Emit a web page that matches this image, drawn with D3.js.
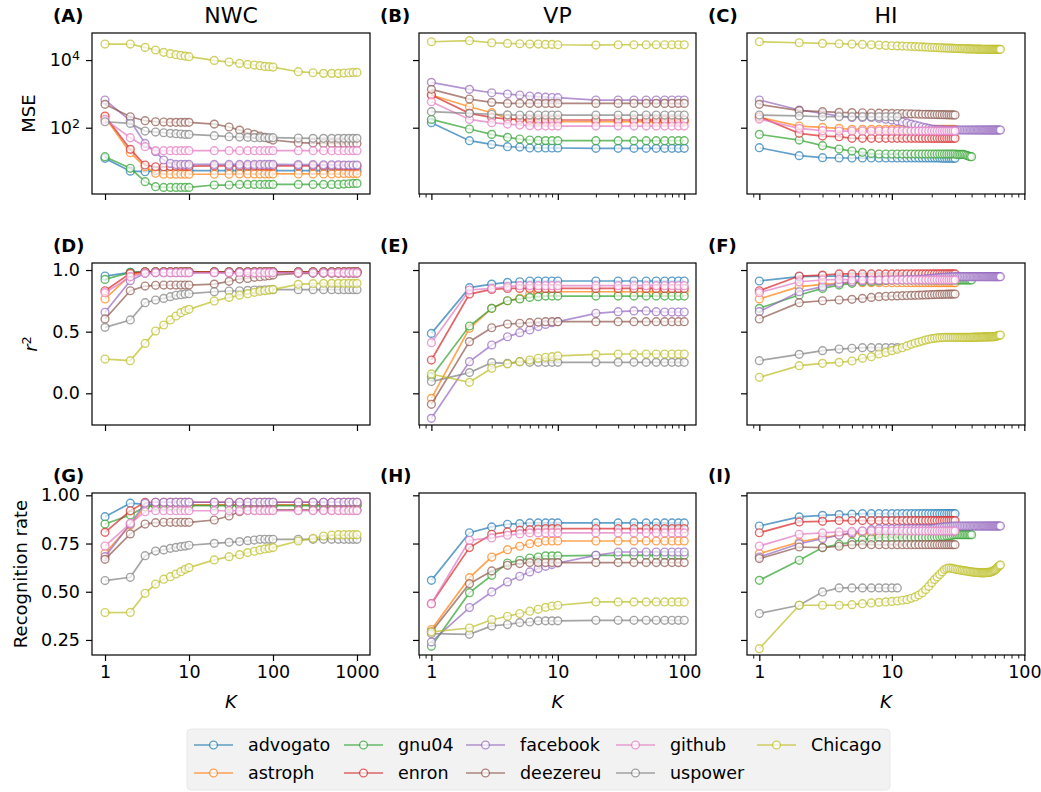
<!DOCTYPE html>
<html>
<head>
<meta charset="utf-8">
<script src="https://cdn.jsdelivr.net/npm/d3@7"></script>
<style>
  body { margin: 0; background: #fff; }
  svg { display: block; font-family: "DejaVu Sans", sans-serif; }
</style>
</head>
<body>
<svg width="1041" height="792"></svg>
<script>
// series names, in draw order (later ones on top)
const seriesNames = ["advogato", "astroph", "gnu04", "enron", "facebook", "deezereu", "github", "uspower", "Chicago"];
const seriesColors = ["#1f77b4", "#ff7f0e", "#2ca02c", "#d62728", "#9467bd", "#8c564b", "#e377c2", "#7f7f7f", "#bcbd22"];

const datasetNames = ["NWC", "VP", "HI"];
const metricNames = ["MSE", "r2", "Recognition rate"];

// K values of each data set
const kNWC = [1, 2, 3, 4, 5, 6, 7, 8, 9, 10, 20, 30, 40, 50, 60, 70, 80, 90, 100, 200, 300, 400, 500, 600, 700, 800, 900, 1000];
const kVP = [1, 2, 3, 4, 5, 6, 7, 8, 9, 10, 20, 30, 40, 50, 60, 70, 80, 90, 100];
const kHI = [1, 2, 3, 4, 5, 6, 7, 8, 9, 10, 11, 12, 13, 14, 15, 16, 17, 18, 19, 20,
  21, 22, 23, 24, 25, 26, 27, 28, 29, 30, 31, 32, 33, 34, 35, 36, 37, 38, 39, 40,
  41, 42, 43, 44, 45, 46, 47, 48, 49, 50, 51, 52, 53, 54, 55, 56, 57, 58, 59, 60,
  61, 62, 63, 64, 65, 66];

// tick labels
const ticksMSE = [1e2, 1e4];
const ticksR2 = [0.0, 0.5, 1.0];
const ticksRec = [0.25, 0.50, 0.75, 1.00];
const ticksNWC = [1, 10, 100, 1000];
const ticksVP = [1, 10, 100];
const ticksHI = [1, 10, 100];

// ---------- NWC ----------
const mseNWC = [
  [12.4, 5.2, 5.0, 5.3, 5.4, 5.4, 5.4, 5.4, 5.4, 5.4, 5.4, 5.4, 5.4, 5.4, 5.4, 5.4, 5.4, 5.4, 5.4, 5.4, 5.4, 5.4, 5.4, 5.4, 5.4, 5.4, 5.4, 5.4],
  [202, 18.2, 7.0, 4.5, 4.2, 4.2, 4.2, 4.2, 4.2, 4.2, 4.2, 4.2, 4.3, 4.3, 4.3, 4.3, 4.3, 4.3, 4.3, 4.3, 4.3, 4.3, 4.3, 4.4, 4.4, 4.4, 4.4, 4.4],
  [13.9, 6.3, 2.54, 1.80, 1.72, 1.72, 1.72, 1.72, 1.72, 1.72, 2.02, 2.02, 2.11, 2.11, 2.11, 2.11, 2.11, 2.11, 2.11, 2.11, 2.11, 2.11, 2.11, 2.11, 2.15, 2.2, 2.26, 2.26],
  [221, 22.9, 7.9, 7.0, 7.0, 7.2, 7.3, 7.3, 7.3, 7.3, 7.4, 7.4, 7.4, 7.4, 7.4, 7.4, 7.4, 7.4, 7.4, 7.4, 7.4, 7.4, 7.4, 7.4, 7.4, 7.4, 7.4, 7.4],
  [658, 161, 34.4, 19.5, 11.1, 8.8, 8.2, 8.2, 8.2, 8.2, 8.2, 8.2, 8.2, 8.2, 8.2, 8.2, 8.2, 8.2, 8.2, 8.1, 8.1, 8.0, 8.0, 8.0, 7.9, 7.9, 7.9, 7.9],
  [490, 211, 161, 150, 147, 144, 144, 144, 144, 144, 128, 105, 85, 71, 63.5, 56.7, 51.8, 47.3, 43.2, 36, 35.2, 34.4, 34.4, 34.4, 34.4, 34.4, 34.4, 34.4],
  [176, 50.6, 27.4, 20.9, 20.9, 20.9, 20.9, 20.9, 20.9, 20.9, 20.9, 20.9, 20.9, 20.9, 20.9, 20.9, 20.9, 20.9, 20.9, 20.9, 20.9, 20.9, 20.9, 20.9, 20.9, 20.9, 20.9, 20.9],
  [150, 134, 79.6, 74.5, 71, 68, 66.4, 65, 63.5, 63.5, 58, 54.2, 53, 51.8, 50.6, 50.6, 50.6, 50.6, 50.6, 49.5, 48.4, 48.4, 48.4, 48.4, 48.4, 48.4, 48.4, 48.4],
  [29700, 29700, 23700, 19800, 16900, 15400, 14400, 13700, 13100, 12600, 9770, 8730, 7970, 7450, 7120, 6800, 6500, 6360, 6210, 4520, 4220, 4040, 4040, 4040, 4130, 4220, 4320, 4320]
];
const r2NWC = [
  [0.951, 0.981, 0.986, 0.986, 0.986, 0.986, 0.986, 0.986, 0.986, 0.986, 0.986, 0.986, 0.986, 0.986, 0.986, 0.986, 0.986, 0.986, 0.986, 0.986, 0.986, 0.986, 0.986, 0.986, 0.986, 0.986, 0.986, 0.986],
  [0.765, 0.959, 0.981, 0.981, 0.981, 0.981, 0.981, 0.981, 0.981, 0.981, 0.981, 0.981, 0.981, 0.981, 0.981, 0.981, 0.981, 0.981, 0.981, 0.981, 0.981, 0.981, 0.981, 0.981, 0.981, 0.981, 0.981, 0.981],
  [0.924, 0.981, 0.986, 0.986, 0.986, 0.986, 0.986, 0.986, 0.986, 0.986, 0.986, 0.986, 0.986, 0.986, 0.986, 0.986, 0.986, 0.986, 0.986, 0.986, 0.986, 0.986, 0.986, 0.986, 0.986, 0.986, 0.986, 0.986],
  [0.832, 0.973, 0.986, 0.986, 0.986, 0.986, 0.986, 0.986, 0.986, 0.986, 0.986, 0.986, 0.986, 0.986, 0.986, 0.986, 0.986, 0.986, 0.986, 0.986, 0.986, 0.986, 0.986, 0.986, 0.986, 0.986, 0.986, 0.986],
  [0.657, 0.914, 0.973, 0.978, 0.978, 0.978, 0.978, 0.978, 0.978, 0.978, 0.978, 0.978, 0.978, 0.978, 0.978, 0.978, 0.978, 0.978, 0.978, 0.978, 0.978, 0.978, 0.978, 0.978, 0.978, 0.978, 0.978, 0.978],
  [0.603, 0.832, 0.870, 0.876, 0.878, 0.878, 0.878, 0.878, 0.878, 0.878, 0.886, 0.908, 0.927, 0.932, 0.941, 0.946, 0.950, 0.954, 0.959, 0.973, 0.973, 0.973, 0.973, 0.973, 0.973, 0.973, 0.973, 0.973],
  [0.816, 0.946, 0.973, 0.978, 0.978, 0.978, 0.978, 0.978, 0.978, 0.978, 0.978, 0.978, 0.978, 0.978, 0.978, 0.978, 0.978, 0.978, 0.978, 0.978, 0.978, 0.978, 0.978, 0.978, 0.978, 0.978, 0.978, 0.978],
  [0.535, 0.595, 0.735, 0.757, 0.770, 0.784, 0.795, 0.800, 0.805, 0.808, 0.824, 0.830, 0.832, 0.835, 0.838, 0.838, 0.840, 0.840, 0.841, 0.841, 0.841, 0.841, 0.841, 0.841, 0.841, 0.841, 0.841, 0.841],
  [0.278, 0.265, 0.405, 0.505, 0.554, 0.595, 0.627, 0.654, 0.670, 0.681, 0.749, 0.778, 0.795, 0.808, 0.819, 0.827, 0.832, 0.838, 0.843, 0.884, 0.889, 0.892, 0.892, 0.892, 0.892, 0.892, 0.892, 0.892]
];
const recNWC = [
  [0.889, 0.959, 0.953, 0.950, 0.950, 0.950, 0.950, 0.950, 0.950, 0.950, 0.950, 0.950, 0.950, 0.950, 0.950, 0.950, 0.950, 0.950, 0.950, 0.950, 0.950, 0.950, 0.950, 0.950, 0.950, 0.950, 0.950, 0.950],
  [0.699, 0.846, 0.941, 0.950, 0.950, 0.950, 0.950, 0.950, 0.950, 0.950, 0.950, 0.950, 0.950, 0.950, 0.950, 0.950, 0.950, 0.950, 0.950, 0.950, 0.950, 0.950, 0.950, 0.950, 0.950, 0.950, 0.950, 0.950],
  [0.851, 0.898, 0.941, 0.946, 0.946, 0.946, 0.946, 0.946, 0.946, 0.946, 0.946, 0.946, 0.946, 0.946, 0.946, 0.946, 0.946, 0.946, 0.946, 0.946, 0.946, 0.946, 0.946, 0.946, 0.946, 0.946, 0.946, 0.946],
  [0.808, 0.920, 0.964, 0.964, 0.964, 0.964, 0.964, 0.964, 0.964, 0.964, 0.964, 0.964, 0.964, 0.964, 0.964, 0.964, 0.964, 0.964, 0.964, 0.964, 0.964, 0.964, 0.964, 0.964, 0.964, 0.964, 0.964, 0.964],
  [0.682, 0.851, 0.959, 0.964, 0.964, 0.964, 0.964, 0.964, 0.964, 0.964, 0.964, 0.964, 0.964, 0.964, 0.964, 0.964, 0.964, 0.964, 0.964, 0.964, 0.964, 0.964, 0.964, 0.964, 0.964, 0.964, 0.964, 0.964],
  [0.668, 0.800, 0.851, 0.858, 0.860, 0.860, 0.860, 0.860, 0.860, 0.860, 0.872, 0.893, 0.915, 0.924, 0.924, 0.924, 0.924, 0.924, 0.924, 0.924, 0.924, 0.924, 0.924, 0.924, 0.924, 0.924, 0.924, 0.924],
  [0.737, 0.855, 0.915, 0.920, 0.920, 0.920, 0.920, 0.920, 0.920, 0.920, 0.920, 0.920, 0.920, 0.920, 0.920, 0.920, 0.920, 0.920, 0.920, 0.920, 0.920, 0.920, 0.920, 0.920, 0.920, 0.920, 0.920, 0.920],
  [0.558, 0.575, 0.687, 0.711, 0.717, 0.725, 0.730, 0.734, 0.737, 0.741, 0.751, 0.756, 0.760, 0.765, 0.768, 0.772, 0.772, 0.772, 0.772, 0.772, 0.772, 0.772, 0.772, 0.772, 0.772, 0.772, 0.772, 0.772],
  [0.392, 0.393, 0.492, 0.540, 0.565, 0.578, 0.592, 0.604, 0.616, 0.625, 0.665, 0.682, 0.692, 0.703, 0.710, 0.717, 0.722, 0.725, 0.729, 0.763, 0.777, 0.789, 0.794, 0.796, 0.796, 0.796, 0.796, 0.796]
];

// ---------- VP ----------
const mseVP = [
  [141, 41.3, 32.1, 27.4, 26.8, 25.1, 25.1, 25.1, 25.1, 25.1, 24.5, 24.5, 24.5, 24.5, 24.5, 24.5, 24.5, 24.5, 24.5],
  [924, 418, 278, 189, 169, 160, 155, 152, 150, 150, 150, 150, 150, 150, 150, 150, 150, 150, 150],
  [176, 91.5, 63.5, 51.8, 46.2, 43.2, 42, 41.5, 41.3, 41.3, 41.3, 41.3, 41.3, 41.3, 41.3, 41.3, 41.3, 41.3, 41.3],
  [924, 266, 202, 180, 175, 172, 170, 169, 169, 169, 169, 169, 169, 169, 169, 169, 169, 169, 169],
  [2190, 1360, 1080, 988, 924, 863, 825, 800, 780, 771, 658, 658, 658, 658, 658, 658, 658, 658, 658],
  [1360, 703, 561, 524, 524, 524, 524, 524, 524, 524, 524, 524, 524, 524, 524, 524, 524, 524, 524],
  [587, 176, 141, 128, 120, 115, 112, 112, 112, 112, 112, 112, 112, 112, 112, 112, 112, 112, 112],
  [297, 266, 250, 240, 237, 237, 237, 237, 237, 237, 237, 237, 237, 237, 237, 237, 237, 237, 237],
  [34800, 37300, 32500, 31100, 30400, 29700, 29700, 29000, 29000, 28400, 27800, 28400, 28400, 28400, 28400, 28400, 28400, 28400, 28400]
];
const r2VP = [
  [0.486, 0.857, 0.886, 0.900, 0.905, 0.911, 0.911, 0.911, 0.911, 0.911, 0.911, 0.911, 0.911, 0.911, 0.911, 0.911, 0.911, 0.911, 0.911],
  [-0.041, 0.527, 0.689, 0.751, 0.770, 0.805, 0.815, 0.820, 0.824, 0.824, 0.824, 0.824, 0.824, 0.824, 0.824, 0.824, 0.824, 0.824, 0.824],
  [0.135, 0.546, 0.689, 0.751, 0.765, 0.778, 0.784, 0.789, 0.789, 0.789, 0.789, 0.789, 0.789, 0.789, 0.789, 0.789, 0.789, 0.789, 0.789],
  [0.270, 0.805, 0.843, 0.851, 0.851, 0.851, 0.851, 0.851, 0.851, 0.851, 0.851, 0.851, 0.851, 0.851, 0.851, 0.851, 0.851, 0.851, 0.851],
  [-0.203, 0.257, 0.392, 0.459, 0.492, 0.514, 0.541, 0.559, 0.573, 0.581, 0.649, 0.662, 0.668, 0.668, 0.662, 0.659, 0.659, 0.659, 0.659],
  [-0.089, 0.419, 0.532, 0.562, 0.568, 0.573, 0.578, 0.581, 0.581, 0.581, 0.581, 0.581, 0.581, 0.581, 0.581, 0.581, 0.581, 0.581, 0.581],
  [0.411, 0.838, 0.851, 0.865, 0.873, 0.873, 0.873, 0.873, 0.873, 0.873, 0.873, 0.873, 0.873, 0.873, 0.873, 0.873, 0.873, 0.873, 0.873],
  [0.095, 0.168, 0.249, 0.243, 0.257, 0.251, 0.251, 0.251, 0.251, 0.251, 0.251, 0.251, 0.251, 0.251, 0.251, 0.251, 0.251, 0.251, 0.251],
  [0.157, 0.089, 0.203, 0.238, 0.257, 0.270, 0.284, 0.292, 0.297, 0.303, 0.316, 0.319, 0.319, 0.319, 0.319, 0.319, 0.319, 0.319, 0.319]
];
const recVP = [
  [0.559, 0.806, 0.836, 0.850, 0.853, 0.857, 0.857, 0.857, 0.857, 0.857, 0.857, 0.857, 0.857, 0.857, 0.857, 0.857, 0.857, 0.857, 0.857],
  [0.304, 0.573, 0.680, 0.718, 0.736, 0.749, 0.756, 0.763, 0.763, 0.763, 0.763, 0.763, 0.763, 0.763, 0.763, 0.763, 0.763, 0.763, 0.763],
  [0.217, 0.495, 0.585, 0.649, 0.663, 0.675, 0.680, 0.686, 0.686, 0.686, 0.689, 0.689, 0.689, 0.689, 0.689, 0.689, 0.689, 0.689, 0.689],
  [0.438, 0.729, 0.798, 0.810, 0.819, 0.822, 0.825, 0.827, 0.827, 0.827, 0.827, 0.827, 0.827, 0.827, 0.827, 0.827, 0.827, 0.827, 0.827],
  [0.240, 0.418, 0.499, 0.551, 0.580, 0.603, 0.620, 0.632, 0.641, 0.649, 0.689, 0.706, 0.706, 0.706, 0.706, 0.706, 0.706, 0.706, 0.706],
  [0.292, 0.542, 0.608, 0.637, 0.646, 0.651, 0.651, 0.651, 0.651, 0.651, 0.651, 0.651, 0.651, 0.651, 0.651, 0.651, 0.651, 0.651, 0.651],
  [0.438, 0.767, 0.779, 0.793, 0.800, 0.805, 0.805, 0.805, 0.805, 0.805, 0.805, 0.805, 0.805, 0.805, 0.805, 0.805, 0.805, 0.805, 0.805],
  [0.283, 0.279, 0.323, 0.330, 0.340, 0.343, 0.349, 0.349, 0.349, 0.349, 0.352, 0.352, 0.352, 0.352, 0.352, 0.352, 0.352, 0.352, 0.352],
  [0.292, 0.312, 0.355, 0.373, 0.387, 0.399, 0.409, 0.419, 0.426, 0.430, 0.447, 0.447, 0.447, 0.447, 0.447, 0.447, 0.447, 0.447, 0.447]
];

// ---------- HI (K = 1, 2, 3, ... up to each series' length) ----------
const mseHI = [
  [25.6, 14.9, 13.0, 12.7, 12.7, 12.7, 12.7, 12.7, 12.7, 12.7, 12.7, 12.7, 12.7, 12.7, 12.7, 12.7, 12.7, 12.7, 12.7, 12.7,
   12.7, 12.7, 12.7, 12.6, 12.6, 12.6, 12.5, 12.5, 12.4, 12.4],
  [202, 112, 102, 95.6, 89.3, 89.3, 89.3, 89.3, 89.3, 89.3, 89.3, 89.3, 89.3, 89.3, 89.3, 89.3, 89.3, 89.3, 89.3, 89.3,
   89.3, 89.3, 89.3, 89.3, 89.3, 89.3, 89.3, 89.3, 89.3, 89.3],
  [63.5, 43.2, 29.4, 23.4, 20.4, 18.7, 17.4, 16.7, 16.7, 16.7, 16.7, 16.7, 16.7, 16.7, 16.7, 16.7, 16.7, 16.7, 16.7, 16.7,
   16.7, 16.7, 16.7, 16.7, 16.7, 16.7, 16.7, 16.7, 16.7, 16.7, 16.2, 16.2, 16.2, 16.2, 16.2, 15.6, 15.0, 14.5, 14.0, 13.9],
  [211, 68, 56.7, 54.2, 48.4, 48.4, 48.4, 48.4, 48.4, 48.4, 48.4, 48.4, 48.4, 48.4, 48.4, 48.4, 48.4, 48.4, 48.4, 48.4,
   48.4, 48.4, 48.4, 48.4, 48.4, 48.4, 48.4, 48.4, 48.4, 48.4],
  [658, 333, 266, 221, 202, 202, 202, 190, 178, 168, 158, 148, 138, 128, 120, 112, 105, 100, 95, 91,
   89, 88, 87, 86, 86, 85.4, 85.4, 85.4, 85.4, 85.4, 85.4, 85.4, 85.4, 85.4, 85.4, 85.4, 85.4, 85.4, 85.4, 85.4,
   85.4, 85.4, 85.4, 85.4, 85.4, 85.4, 85.4, 85.4, 85.4, 85.4, 85.4, 85.4, 85.4, 85.4, 85.4, 85.4, 85.4, 85.4, 85.4, 85.4,
   85.4, 85.4, 85.4, 85.4, 85.4, 85.4],
  [490, 318, 297, 284, 280, 276, 272, 268, 266, 264, 262, 260, 258, 256, 254, 252, 250, 249, 248, 247,
   246, 245, 244, 243, 242, 241, 240, 239, 238, 237],
  [180, 95.6, 81.5, 79.7, 79.7, 79.7, 79.7, 79.7, 79.7, 79.7, 79.7, 79.7, 79.7, 79.7, 79.7, 79.7, 79.7, 79.7, 79.7, 79.7,
   79.7, 79.7, 79.7, 79.7, 79.7, 79.7, 79.7, 79.7, 79.7, 79.7],
  [237, 224, 211, 211, 211, 211, 211, 211, 211, 211, 211],
  [34800, 32500, 31100, 30400, 29700, 29000, 28400, 27800, 27100, 26500, 26200, 25900, 25600, 25300, 25000, 24700, 24400, 24200, 23900, 23700,
   23500, 23300, 23100, 22900, 22800, 22600, 22500, 22400, 22200, 22100, 22000, 21900, 21800, 21700, 21600, 21500, 21400, 21400, 21300, 21300,
   21200, 21200, 21100, 21100, 21000, 21000, 21000, 20900, 20900, 20900, 20900, 20900, 20800, 20800, 20800, 20800, 20800, 20800, 20700, 20700,
   20700, 20700, 20700, 20700, 20700, 20700]
];
const r2HI = [
  [0.911, 0.946, 0.951, 0.951, 0.951, 0.951, 0.951, 0.951, 0.951, 0.951, 0.951, 0.951, 0.951, 0.951, 0.951, 0.951, 0.951, 0.951, 0.951, 0.951,
   0.951, 0.951, 0.951, 0.952, 0.952, 0.953, 0.953, 0.954, 0.955, 0.955],
  [0.765, 0.865, 0.884, 0.892, 0.897, 0.897, 0.897, 0.897, 0.897, 0.897, 0.897, 0.897, 0.897, 0.897, 0.897, 0.897, 0.897, 0.897, 0.897, 0.897,
   0.897, 0.897, 0.897, 0.897, 0.897, 0.897, 0.897, 0.897, 0.897, 0.897],
  [0.689, 0.797, 0.851, 0.878, 0.892, 0.905, 0.905, 0.910, 0.915, 0.919, 0.919, 0.919, 0.919, 0.919, 0.919, 0.919, 0.919, 0.919, 0.919, 0.919,
   0.919, 0.919, 0.919, 0.919, 0.919, 0.919, 0.919, 0.919, 0.919, 0.919, 0.919, 0.919, 0.919, 0.919, 0.919, 0.919, 0.919, 0.919, 0.919, 0.919],
  [0.832, 0.951, 0.959, 0.968, 0.968, 0.968, 0.968, 0.968, 0.968, 0.968, 0.968, 0.968, 0.968, 0.968, 0.968, 0.968, 0.968, 0.968, 0.968, 0.968,
   0.968, 0.968, 0.968, 0.968, 0.968, 0.968, 0.968, 0.968, 0.968, 0.968],
  [0.662, 0.824, 0.865, 0.892, 0.905, 0.914, 0.916, 0.918, 0.919, 0.920, 0.921, 0.922, 0.923, 0.924, 0.925, 0.926, 0.927, 0.928, 0.930, 0.932,
   0.934, 0.936, 0.938, 0.940, 0.941, 0.942, 0.943, 0.944, 0.945, 0.946, 0.946, 0.946, 0.946, 0.946, 0.946, 0.946, 0.946, 0.946, 0.946, 0.946,
   0.946, 0.946, 0.946, 0.946, 0.946, 0.946, 0.946, 0.946, 0.946, 0.946, 0.946, 0.946, 0.946, 0.946, 0.946, 0.946, 0.946, 0.946, 0.946, 0.946,
   0.946, 0.946, 0.946, 0.946, 0.946, 0.946],
  [0.603, 0.735, 0.751, 0.757, 0.762, 0.770, 0.778, 0.784, 0.787, 0.789, 0.790, 0.792, 0.793, 0.794, 0.795, 0.796, 0.797, 0.798, 0.799, 0.800,
   0.801, 0.802, 0.802, 0.803, 0.803, 0.804, 0.804, 0.805, 0.805, 0.805],
  [0.816, 0.905, 0.919, 0.924, 0.919, 0.919, 0.919, 0.919, 0.919, 0.919, 0.919, 0.919, 0.919, 0.919, 0.919, 0.919, 0.919, 0.919, 0.919, 0.919,
   0.919, 0.919, 0.919, 0.919, 0.919, 0.919, 0.919, 0.919, 0.919, 0.919],
  [0.265, 0.316, 0.346, 0.359, 0.365, 0.370, 0.370, 0.370, 0.370, 0.370, 0.370],
  [0.130, 0.224, 0.243, 0.251, 0.262, 0.284, 0.297, 0.319, 0.332, 0.346, 0.357, 0.370, 0.384, 0.397, 0.408, 0.416, 0.424, 0.432, 0.438, 0.443,
   0.446, 0.449, 0.451, 0.452, 0.453, 0.454, 0.454, 0.454, 0.454, 0.454, 0.454, 0.454, 0.454, 0.454, 0.454, 0.454, 0.454, 0.454, 0.454, 0.454,
   0.455, 0.455, 0.455, 0.455, 0.456, 0.456, 0.456, 0.456, 0.457, 0.457, 0.457, 0.457, 0.458, 0.458, 0.458, 0.458, 0.459, 0.459, 0.459, 0.459,
   0.462, 0.465, 0.467, 0.469, 0.471, 0.473]
];
const recHI = [
  [0.841, 0.888, 0.896, 0.900, 0.902, 0.905, 0.905, 0.905, 0.905, 0.905, 0.905, 0.905, 0.905, 0.905, 0.905, 0.905, 0.905, 0.905, 0.905, 0.905,
   0.905, 0.905, 0.905, 0.905, 0.905, 0.905, 0.905, 0.905, 0.905, 0.905],
  [0.698, 0.758, 0.781, 0.794, 0.801, 0.805, 0.805, 0.805, 0.805, 0.805, 0.805, 0.805, 0.805, 0.805, 0.805, 0.805, 0.805, 0.805, 0.805, 0.805,
   0.805, 0.805, 0.805, 0.805, 0.805, 0.805, 0.805, 0.805, 0.805, 0.805],
  [0.559, 0.663, 0.729, 0.746, 0.758, 0.770, 0.775, 0.781, 0.781, 0.781, 0.781, 0.781, 0.781, 0.781, 0.781, 0.781, 0.781, 0.781, 0.781, 0.781,
   0.783, 0.784, 0.785, 0.786, 0.787, 0.789, 0.790, 0.792, 0.794, 0.796, 0.796, 0.796, 0.796, 0.796, 0.796, 0.796, 0.796, 0.796, 0.796, 0.796],
  [0.806, 0.862, 0.865, 0.869, 0.869, 0.869, 0.869, 0.869, 0.869, 0.869, 0.869, 0.869, 0.869, 0.869, 0.869, 0.869, 0.869, 0.869, 0.869, 0.869,
   0.869, 0.869, 0.869, 0.869, 0.869, 0.869, 0.869, 0.869, 0.869, 0.869],
  [0.680, 0.749, 0.775, 0.793, 0.805, 0.815, 0.822, 0.827, 0.827, 0.827, 0.827, 0.827, 0.827, 0.827, 0.827, 0.827, 0.827, 0.827, 0.827, 0.827,
   0.829, 0.831, 0.833, 0.835, 0.836, 0.837, 0.838, 0.839, 0.840, 0.841, 0.841, 0.841, 0.841, 0.841, 0.841, 0.841, 0.841, 0.841, 0.841, 0.841,
   0.841, 0.841, 0.841, 0.841, 0.841, 0.841, 0.841, 0.841, 0.841, 0.841, 0.841, 0.841, 0.841, 0.841, 0.841, 0.841, 0.841, 0.841, 0.841, 0.841,
   0.841, 0.841, 0.841, 0.841, 0.841, 0.841],
  [0.672, 0.732, 0.729, 0.736, 0.744, 0.744, 0.744, 0.744, 0.744, 0.744, 0.744, 0.744, 0.744, 0.744, 0.744, 0.744, 0.744, 0.744, 0.744, 0.744,
   0.744, 0.744, 0.744, 0.744, 0.744, 0.744, 0.744, 0.744, 0.744, 0.744],
  [0.737, 0.798, 0.805, 0.810, 0.813, 0.815, 0.815, 0.815, 0.815, 0.815, 0.815, 0.815, 0.815, 0.815, 0.815, 0.815, 0.815, 0.815, 0.815, 0.815,
   0.815, 0.815, 0.815, 0.815, 0.815, 0.815, 0.815, 0.815, 0.815, 0.815],
  [0.387, 0.430, 0.499, 0.520, 0.520, 0.520, 0.520, 0.520, 0.520, 0.520, 0.520],
  [0.205, 0.430, 0.430, 0.430, 0.433, 0.438, 0.442, 0.445, 0.447, 0.450, 0.452, 0.456, 0.459, 0.466, 0.473, 0.483, 0.495, 0.511, 0.528, 0.546,
   0.563, 0.577, 0.590, 0.603, 0.615, 0.621, 0.623, 0.622, 0.620, 0.617, 0.615, 0.614, 0.612, 0.611, 0.609, 0.608, 0.607, 0.605, 0.604, 0.603,
   0.602, 0.601, 0.600, 0.600, 0.599, 0.599, 0.598, 0.598, 0.598, 0.598, 0.599, 0.599, 0.600, 0.600, 0.601, 0.603, 0.605, 0.607, 0.610, 0.613,
   0.617, 0.622, 0.627, 0.632, 0.636, 0.639]
];

// ---------- layout ----------
const svg = d3.select("svg");
const colBox = [[92, 370], [419, 696], [747, 1025]];
const rowBox = [[33, 194], [263, 425], [493, 655]];
const xDomain = [[Math.pow(10, -0.155), Math.pow(10, 3.155)], [Math.pow(10, -0.098), Math.pow(10, 2.093)], [Math.pow(10, -0.093), Math.pow(10, 2.005)]];
const yDomain = [[Math.pow(10, 0.04), Math.pow(10, 4.8)], [-0.257, 1.057], [0.172, 1.012]];
const kByCol = [kNWC, kVP, kHI];
const xTicksByCol = [ticksNWC, ticksVP, ticksHI];
const yTicksByRow = [ticksMSE, ticksR2, ticksRec];
const panelData = [[mseNWC, mseVP, mseHI], [r2NWC, r2VP, r2HI], [recNWC, recVP, recHI]];
const panelLetters = [["(A)", "(B)", "(C)"], ["(D)", "(E)", "(F)"], ["(G)", "(H)", "(I)"]];
const tickFont = 17.5;

// minor log ticks at 2..9 of each decade (only VP and HI show them)
function minorTicks(dom) {
  let out = [];
  for (let e = -1; e <= 3; e++) {
    for (let m = 2; m <= 9; m++) {
      let v = m * Math.pow(10, e);
      if (v >= dom[0] && v <= dom[1]) out.push(v);
    }
  }
  return out;
}

for (let r = 0; r < 3; r++) {
  for (let c = 0; c < 3; c++) {
    let x = d3.scaleLog().domain(xDomain[c]).range(colBox[c]);
    let y = (r === 0 ? d3.scaleLog() : d3.scaleLinear()).domain(yDomain[r]).range([rowBox[r][1], rowBox[r][0]]);
    let g = svg.append("g");

    // x axis (labels only on bottom row)
    let xAxis = d3.axisBottom(x).tickValues(xTicksByCol[c]).tickSize(6).tickPadding(5)
      .tickFormat(r === 2 ? d3.format("d") : () => "");
    let gx = g.append("g").attr("transform", "translate(0," + rowBox[r][1] + ")").call(xAxis);
    gx.select(".domain").remove();
    gx.selectAll("line").attr("stroke", "#000").attr("stroke-width", 1.2);
    gx.selectAll("text").attr("font-size", tickFont).attr("fill", "#000").attr("font-family", "DejaVu Sans");

    if (c > 0) {
      let gm = g.append("g").attr("transform", "translate(0," + rowBox[r][1] + ")")
        .call(d3.axisBottom(x).tickValues(minorTicks(xDomain[c])).tickSize(3.5).tickFormat(() => ""));
      gm.select(".domain").remove();
      gm.selectAll("line").attr("stroke", "#000").attr("stroke-width", 0.9);
    }

    // y axis (labels only on left column)
    let yAxis = d3.axisLeft(y).tickValues(yTicksByRow[r]).tickSize(6).tickPadding(6)
      .tickFormat(c === 0 ? (r === 1 ? d3.format(".1f") : d3.format(".2f")) : () => "");
    let gy = g.append("g").attr("transform", "translate(" + colBox[c][0] + ",0)").call(yAxis);
    gy.select(".domain").remove();
    gy.selectAll("line").attr("stroke", "#000").attr("stroke-width", 1.2);
    gy.selectAll("text").attr("font-size", tickFont).attr("fill", "#000").attr("font-family", "DejaVu Sans");
    if (r === 0 && c === 0) {
      // 10^n labels
      gy.selectAll(".tick text").each(function (d) {
        let t = d3.select(this).text(null);
        t.append("tspan").text("10");
        t.append("tspan").attr("dy", "-0.45em").attr("font-size", "0.72em").text(Math.round(Math.log10(d)));
      });
    }

    // frame
    g.append("rect")
      .attr("x", colBox[c][0]).attr("y", rowBox[r][0])
      .attr("width", colBox[c][1] - colBox[c][0]).attr("height", rowBox[r][1] - rowBox[r][0])
      .attr("fill", "none").attr("stroke", "#000").attr("stroke-width", 1.2);

    // series
    let ks = kByCol[c];
    let line = d3.line().x(d => x(d[0])).y(d => y(d[1]));
    panelData[r][c].forEach(function (vals, i) {
      let pts = vals.map((v, j) => [ks[j], v]);
      let col = seriesColors[i];
      let sg = g.append("g");
      sg.append("path").datum(pts).attr("d", line)
        .attr("fill", "none").attr("stroke", col).attr("stroke-width", 1.7).attr("stroke-opacity", 0.7);
      sg.selectAll("circle").data(pts).enter().append("circle")
        .attr("cx", d => x(d[0])).attr("cy", d => y(d[1])).attr("r", 3.9)
        .attr("fill", "#fff").attr("fill-opacity", 0.7)
        .attr("stroke", col).attr("stroke-opacity", 0.7).attr("stroke-width", 1.4);
    });

    // panel letter
    svg.append("text").attr("x", colBox[c][0] - 39).attr("y", rowBox[r][0] - 11)
      .attr("font-size", 18).attr("font-weight", "bold").text(panelLetters[r][c]);
  }
}

// column titles
datasetNames.forEach(function (name, c) {
  svg.append("text").attr("x", (colBox[c][0] + colBox[c][1]) / 2).attr("y", 23)
    .attr("text-anchor", "middle").attr("font-size", 22).text(name);
  svg.append("text").attr("x", (colBox[c][0] + colBox[c][1]) / 2).attr("y", 708)
    .attr("text-anchor", "middle").attr("font-size", 18).attr("font-style", "italic").text("K");
});

// y labels
const yLabelX = [35, 37, 27];
[0, 1, 2].forEach(function (r) {
  let cy = (rowBox[r][0] + rowBox[r][1]) / 2;
  let t = svg.append("text").attr("transform", "translate(" + yLabelX[r] + "," + cy + ") rotate(-90)")
    .attr("text-anchor", "middle").attr("font-size", 18);
  if (r === 1) {
    t.append("tspan").attr("font-style", "italic").text("r");
    t.append("tspan").attr("dy", "-0.45em").attr("font-size", "0.72em").text("2");
  } else {
    t.text(metricNames[r]);
  }
});

// legend
const legend = svg.append("g");
legend.append("rect").attr("x", 187).attr("y", 729).attr("width", 703).attr("height", 61).attr("rx", 4)
  .attr("fill", "#f2f2f2").attr("stroke", "#e8e8e8");
const legColX = [194, 344, 466, 616, 757];
const legRowY = [745, 773];
seriesNames.forEach(function (name, i) {
  let lx = legColX[Math.floor(i / 2)];
  let ly = legRowY[i % 2];
  let col = seriesColors[i];
  legend.append("line").attr("x1", lx).attr("x2", lx + 39).attr("y1", ly).attr("y2", ly)
    .attr("stroke", col).attr("stroke-width", 1.7).attr("stroke-opacity", 0.7);
  legend.append("circle").attr("cx", lx + 19.5).attr("cy", ly).attr("r", 3.9)
    .attr("fill", "#fff").attr("fill-opacity", 0.7)
    .attr("stroke", col).attr("stroke-opacity", 0.7).attr("stroke-width", 1.4);
  legend.append("text").attr("x", lx + 54).attr("y", ly + 6).attr("font-size", 17.5).text(name);
});
</script>
</body>
</html>
